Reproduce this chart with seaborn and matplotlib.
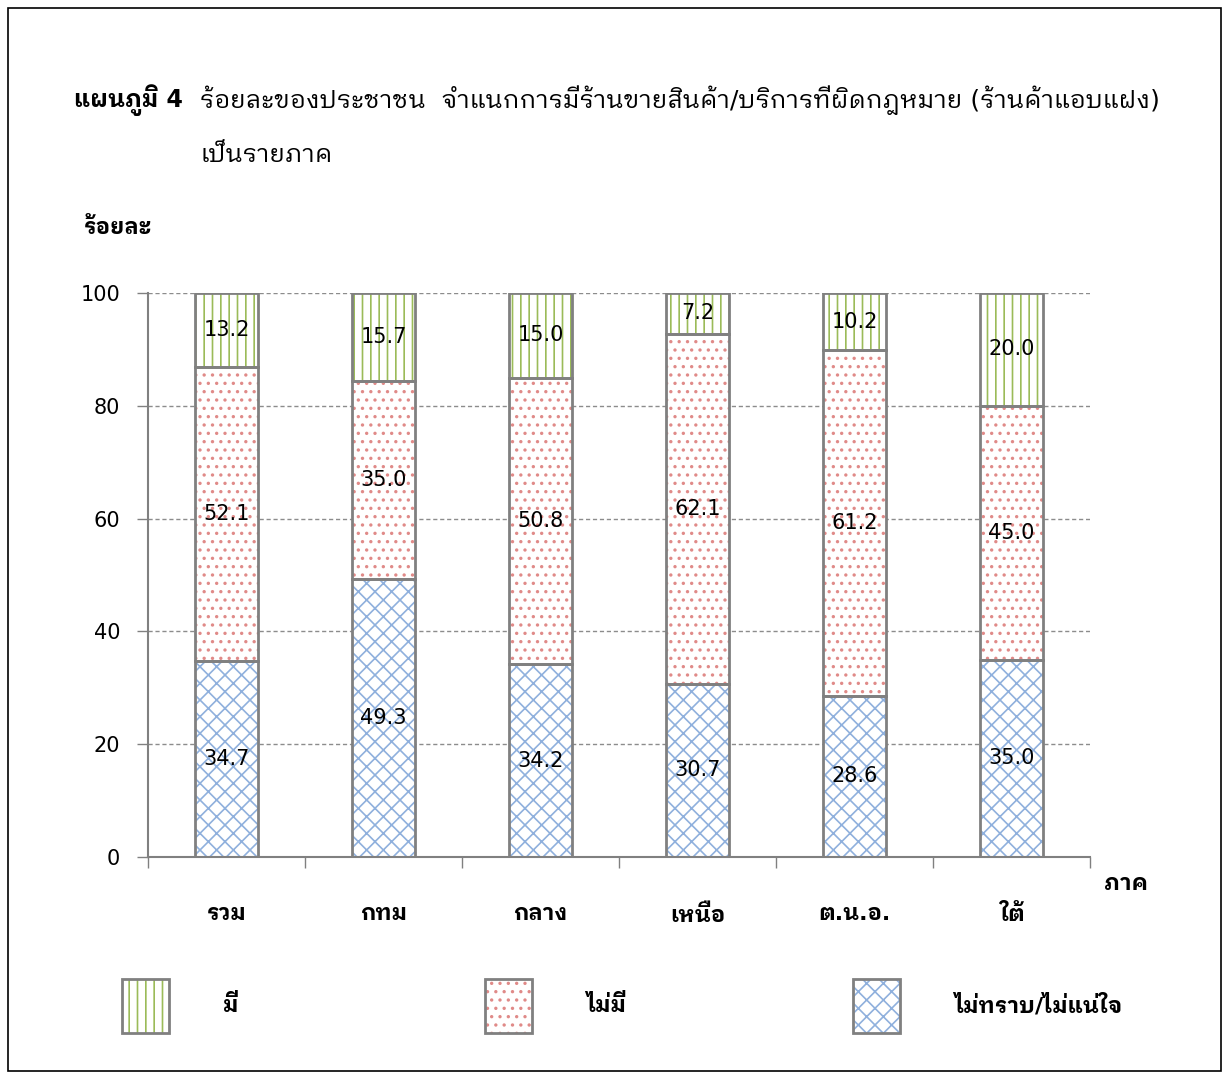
import matplotlib
matplotlib.use("Agg")
import matplotlib.pyplot as plt
from matplotlib import font_manager
from matplotlib.patches import Patch, Rectangle
from matplotlib.legend_handler import HandlerTuple
import numpy as np
import pandas as pd
import seaborn as sns

# data
regions = ["รวม", "กทม", "กลาง", "เหนือ", "ต.น.อ.", "ใต้"]
have = [13.2, 15.7, 15.0, 7.2, 10.2, 20.0]
not_have = [52.1, 35.0, 50.8, 62.1, 61.2, 45.0]
unsure = [34.7, 49.3, 34.2, 30.7, 28.6, 35.0]
series_names = ["มี", "ไม่มี", "ไม่ทราบ/ไม่แน่ใจ"]

sns.set_theme(style="white")

# pick a Thai font that is installed (needs a bold face)
names = {f.name for f in font_manager.fontManager.ttflist}
thai = next((n for n in ["IBM Plex Sans Thai Looped", "IBM Plex Sans Thai",
                         "Noto Sans Thai Looped", "Sarabun"] if n in names),
            "DejaVu Sans")
plt.rcParams["font.family"] = ["DejaVu Sans", thai]
plt.rcParams["hatch.linewidth"] = 1.2
plt.rcParams["text.color"] = "black"
plt.rcParams["xtick.color"] = "black"
plt.rcParams["ytick.color"] = "black"

df = pd.DataFrame({"region": regions, "have": have, "not_have": not_have, "unsure": unsure})
df["b2"] = df["unsure"]
df["b3"] = df["unsure"] + df["not_have"]

fig = plt.figure(figsize=(12.22, 10.77), dpi=100)
ax = fig.add_axes([0.1211, 0.2043, 0.7709, 0.5237])

grey = "#808080"
hatch_info = {
    "unsure": ("xx", "#8FB0DD"),
    "not_have": ("..", "#E08A88"),
    "have": ("||", "#9BBB59"),
}
layers = [("unsure", None), ("not_have", "b2"), ("have", "b3")]
W = 0.4
for col, bot in layers:
    hatch, hc = hatch_info[col]
    bottom = df[bot] if bot else 0
    # hatch layer (hatch colour follows edgecolor)
    sns.barplot(data=df, x="region", y=col, bottom=bottom, color="white", saturation=1,
                width=W, hatch=hatch, edgecolor=hc, linewidth=0, ax=ax, zorder=2)
    # grey outline
    sns.barplot(data=df, x="region", y=col, bottom=bottom, color="white", fill=False,
                width=W, edgecolor=grey, linewidth=2, ax=ax, zorder=3)

# value labels centred in each segment
xs = np.arange(len(regions))
for col, bot in layers:
    bottom = df[bot].values if bot else np.zeros(len(regions))
    for x, b, v in zip(xs, bottom, df[col].values):
        ax.text(x, b + v / 2, f"{v:.1f}", ha="center", va="center", fontsize=15,
                color="black", zorder=5)

ax.set_ylim(0, 100)
ax.set_xlim(-0.5, len(regions) - 0.5)
ax.set_yticks(range(0, 101, 20))
ax.yaxis.grid(True, linestyle=(0, (3, 2)), color="#8c8c8c", linewidth=1)
ax.set_axisbelow(True)
ax.tick_params(axis="y", which="major", length=8, width=1, color=grey, labelsize=15,
               pad=12, left=True, labelcolor="black")

# category boundaries as ticks, names as minor labels
ax.set_xticks(np.arange(-0.5, len(regions)), labels=[""] * (len(regions) + 1))
ax.set_xticks(xs, labels=regions, minor=True)
ax.tick_params(axis="x", which="major", length=8, width=1, color=grey, bottom=True, direction="out")
ax.tick_params(axis="x", which="minor", length=0, pad=34, labelsize=16, labelcolor="black")
for lab in ax.get_xticklabels(minor=True):
    lab.set_fontweight("bold")
ax.set_xlabel("")
ax.set_ylabel("")

for s in ["top", "right"]:
    ax.spines[s].set_visible(False)
for s in ["left", "bottom"]:
    ax.spines[s].set_color(grey)
    ax.spines[s].set_linewidth(1.5)

# axis titles
fig.text(118 / 1222, 1 - 228 / 1077, "ร้อยละ", ha="center", va="center",
         fontsize=16, fontweight="bold")
fig.text(1126 / 1222, 1 - 884 / 1077, "ภาค", ha="center", va="center",
         fontsize=16, fontweight="bold")

# title
fig.text(74 / 1222, 1 - 100 / 1077, "แผนภูมิ 4", ha="left", va="center",
         fontsize=17, fontweight="bold")
fig.text(200 / 1222, 1 - 100 / 1077,
         "ร้อยละของประชาชน  จำแนกการมีร้านขายสินค้า/บริการที่ผิดกฎหมาย (ร้านค้าแอบแฝง)",
         ha="left", va="center", fontsize=18)
fig.text(200 / 1222, 1 - 155 / 1077, "เป็นรายภาค", ha="left", va="center", fontsize=18)

# legend, one entry per block
legend_cols = {"มี": "have", "ไม่มี": "not_have", "ไม่ทราบ/ไม่แน่ใจ": "unsure"}
anchors = [102 / 1222, 465 / 1222, 833 / 1222]
for name, xa in zip(series_names, anchors):
    h, c = hatch_info[legend_cols[name]]
    handle = (Patch(facecolor="white", edgecolor=c, hatch=h, linewidth=0),
              Patch(fill=False, edgecolor=grey, linewidth=2))
    fig.legend([handle], [name], loc="center left",
               bbox_to_anchor=(xa, 1 - 1006 / 1077), frameon=False,
               handler_map={tuple: HandlerTuple(ndivide=1, pad=0)},
               handlelength=2.1, handleheight=3.3, handletextpad=2.45,
               prop={"size": 16, "weight": "bold"})

# outer frame
fig.patches.append(Rectangle((8 / 1222, 6 / 1077), 1 - 9 / 1222, 1 - 14 / 1077,
                             transform=fig.transFigure, fill=False,
                             edgecolor="black", linewidth=1.2))

fig.savefig("out.png", dpi=100)
